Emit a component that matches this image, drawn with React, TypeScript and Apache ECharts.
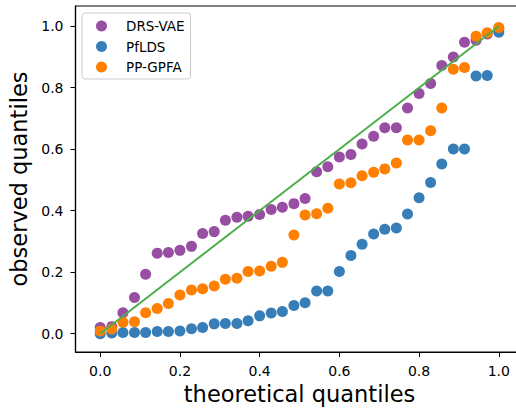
import React, { useEffect, useRef } from "react";
import * as echarts from "echarts";

const theoretical = [0, 0.029, 0.057, 0.086, 0.114, 0.143, 0.171, 0.2, 0.229, 0.257, 0.286, 0.314, 0.343, 0.371, 0.4, 0.429, 0.457, 0.486, 0.514, 0.543, 0.571, 0.6, 0.629, 0.657, 0.686, 0.714, 0.743, 0.771, 0.8, 0.829, 0.857, 0.886, 0.914, 0.943, 0.971, 1.0];
const drsVae = [0.02, 0.023, 0.068, 0.118, 0.193, 0.262, 0.264, 0.271, 0.284, 0.326, 0.332, 0.369, 0.379, 0.382, 0.388, 0.404, 0.411, 0.423, 0.44, 0.527, 0.543, 0.575, 0.583, 0.617, 0.642, 0.67, 0.67, 0.734, 0.781, 0.814, 0.872, 0.9, 0.948, 0.954, 0.975, 0.99];
const pfLds = [0.0, 0.002, 0.004, 0.004, 0.004, 0.007, 0.007, 0.009, 0.016, 0.02, 0.032, 0.033, 0.033, 0.042, 0.058, 0.067, 0.072, 0.092, 0.101, 0.139, 0.139, 0.202, 0.254, 0.291, 0.324, 0.34, 0.344, 0.389, 0.442, 0.492, 0.552, 0.601, 0.601, 0.838, 0.84, 0.98];
const ppGpfa = [0.009, 0.015, 0.037, 0.039, 0.068, 0.082, 0.098, 0.126, 0.142, 0.146, 0.155, 0.177, 0.18, 0.202, 0.204, 0.219, 0.232, 0.321, 0.386, 0.39, 0.408, 0.487, 0.491, 0.514, 0.525, 0.536, 0.555, 0.63, 0.63, 0.66, 0.734, 0.86, 0.866, 0.967, 0.979, 0.996];
const diagonal = [[0, 0], [1, 1]];
const tickValues = [0, 0.2, 0.4, 0.6, 0.8, 1.0];

const FONT = "DejaVu Sans";

export default function App() {
  const ref = useRef<HTMLDivElement>(null);
  useEffect(() => {
    if (!ref.current) return;
    const chart = echarts.init(ref.current, null, { renderer: "svg" });
    const pts = (ys: number[]) => theoretical.map((x, i) => [x, ys[i]]);
    const axisCommon = {
      type: "value" as const,
      splitLine: { show: false },
      axisLine: { show: true, onZero: false, lineStyle: { color: "#000", width: 1.2 } },
      axisTick: { show: true, inside: false, length: 5, lineStyle: { color: "#000", width: 1 }, customValues: tickValues },
      axisLabel: {
        margin: 12,
        fontFamily: FONT,
        fontSize: 14,
        color: "#000",
        customValues: tickValues,
        formatter: (v: number) => v.toFixed(1),
      },
      nameLocation: "middle" as const,
      nameTextStyle: { fontFamily: FONT, fontSize: 22.5, color: "#000" },
    };
    chart.setOption({
      animation: false,
      backgroundColor: "#fff",
      grid: {
        left: 75.5,
        top: 6,
        width: 448,
        height: 346,
        show: true,
        borderColor: "#000",
        borderWidth: 1.2,
        backgroundColor: "transparent",
        containLabel: false,
        outerBoundsMode: "none",
      },
      xAxis: {
        ...axisCommon,
        min: -0.062,
        max: 1.062,
        name: "theoretical quantiles",
        nameGap: 30,
      },
      yAxis: {
        ...axisCommon,
        min: -0.0595,
        max: 1.0657,
        name: "observed quantiles",
        nameGap: 44,
        nameRotate: 90,
      },
      legend: {
        orient: "vertical",
        left: 82,
        top: 13,
        padding: [5, 6, 4, 14],
        itemWidth: 11,
        itemHeight: 11,
        itemGap: 4.5,
        icon: "circle",
        backgroundColor: "rgba(255,255,255,0.8)",
        borderColor: "#cccccc",
        borderWidth: 1,
        borderRadius: 3,
        textStyle: { fontFamily: FONT, fontSize: 13.5, color: "#000", lineHeight: 16, padding: [0, 0, 0, 14] },
        data: ["DRS-VAE", "PfLDS", "PP-GPFA"],
      },
      series: [
        {
          name: "DRS-VAE",
          type: "scatter",
          data: pts(drsVae),
          symbolSize: 11,
          itemStyle: { color: "#984ea3", opacity: 1 },
          z: 2,
        },
        {
          name: "PfLDS",
          type: "scatter",
          data: pts(pfLds),
          symbolSize: 11,
          itemStyle: { color: "#377eb8", opacity: 1 },
          z: 3,
        },
        {
          name: "PP-GPFA",
          type: "scatter",
          data: pts(ppGpfa),
          symbolSize: 11,
          itemStyle: { color: "#ff7f00", opacity: 1 },
          z: 4,
        },
        {
          name: "identity",
          type: "line",
          data: diagonal,
          showSymbol: false,
          symbol: "none",
          lineStyle: { color: "#4daf4a", width: 2 },
          z: 5,
          silent: true,
        },
      ],
    });
    return () => chart.dispose();
  }, []);
  return <div ref={ref} style={{ width: 516, height: 409, position: "absolute", left: 0, top: 0 }} />;
}
